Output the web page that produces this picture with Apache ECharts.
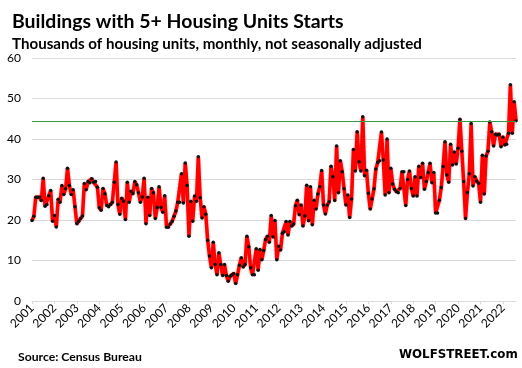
<!DOCTYPE html>
<html><head><meta charset="utf-8">
<script src="https://cdn.jsdelivr.net/npm/echarts@6/dist/echarts.min.js"></script>
<style>html,body{margin:0;padding:0;background:#fff}#c{width:522px;height:368px}</style>
</head><body><div id="c"></div>
<script>
// Monthly starts, thousands of units (NSA), buildings with 5+ units
const years = ['2001','2002','2003','2004','2005','2006','2007','2008','2009','2010','2011','2012','2013','2014','2015','2016','2017','2018','2019','2020','2021','2022'];
const y2001 = [19.9, 20.9, 25.6, 25.6, 25.6, 24.8, 30.3, 23.4, 23.8, 26.0, 27.3, 19.7];
const y2002 = [21.1, 18.3, 25.1, 24.4, 28.5, 26.3, 27.7, 32.8, 28.5, 26.3, 27.5, 23.3];
const y2003 = [19.1, 19.7, 20.4, 21.0, 29.0, 27.5, 29.5, 29.2, 30.2, 29.3, 29.5, 28.1];
const y2004 = [23.0, 22.4, 27.8, 26.5, 23.6, 23.3, 23.8, 24.4, 29.3, 34.3, 23.8, 21.4];
const y2005 = [25.4, 24.6, 20.1, 29.3, 24.4, 27.1, 26.5, 29.5, 28.7, 26.7, 24.4, 25.7];
const y2006 = [30.3, 19.1, 25.6, 21.1, 27.8, 26.7, 20.4, 23.1, 28.2, 23.1, 21.9, 26.0];
const y2007 = [18.2, 18.2, 19.0, 19.7, 20.9, 22.2, 24.4, 24.4, 31.4, 24.2, 34.1, 28.5];
const y2008 = [16.0, 24.6, 19.7, 25.9, 24.6, 35.6, 25.5, 20.5, 23.3, 21.4, 15.0, 11.1];
const y2009 = [8.2, 14.5, 9.0, 6.5, 11.9, 9.0, 6.3, 9.0, 6.3, 4.9, 6.1, 6.5];
const y2010 = [6.8, 4.3, 6.5, 8.8, 10.7, 8.4, 9.0, 16.0, 13.4, 8.2, 6.5, 6.5];
const y2011 = [12.9, 7.6, 12.7, 10.2, 12.5, 15.2, 16.0, 14.5, 21.1, 15.8, 19.9, 10.2];
const y2012 = [13.5, 12.6, 16.7, 17.1, 19.6, 16.3, 19.6, 18.5, 19.0, 23.5, 24.9, 21.3];
const y2013 = [23.7, 18.5, 21.0, 28.6, 19.8, 28.2, 18.8, 24.9, 22.7, 26.4, 28.2, 32.2];
const y2014 = [23.7, 21.5, 23.7, 24.5, 33.3, 30.7, 24.8, 38.3, 26.7, 34.6, 31.9, 27.7];
const y2015 = [23.7, 26.2, 20.6, 25.2, 37.4, 32.1, 41.8, 34.4, 32.1, 45.5, 30.9, 32.3];
const y2016 = [26.6, 22.7, 25.2, 27.7, 32.6, 34.2, 34.6, 41.7, 34.8, 26.2, 40.0, 26.7];
const y2017 = [32.8, 28.9, 27.6, 27.0, 26.7, 27.8, 31.9, 31.9, 23.6, 30.0, 32.1, 27.8];
const y2018 = [25.9, 30.7, 25.9, 33.3, 30.5, 34.0, 27.6, 29.5, 31.7, 34.0, 29.2, 31.7];
const y2019 = [21.7, 21.7, 24.9, 28.0, 33.2, 39.3, 31.1, 29.3, 38.7, 33.6, 36.8, 33.8];
const y2020 = [37.7, 44.9, 37.0, 29.5, 20.4, 26.8, 31.4, 43.8, 28.4, 30.7, 29.6, 29.1];
const y2021 = [24.4, 36.0, 26.4, 35.8, 37.0, 44.2, 41.8, 38.3, 41.2, 41.0, 41.2, 38.1];
const y2022 = [40.5, 38.5, 38.7, 41.4, 53.4, 41.4, 49.2, 44.5];
const yearlyArrays = [y2001,y2002,y2003,y2004,y2005,y2006,y2007,y2008,y2009,y2010,y2011,y2012,y2013,y2014,y2015,y2016,y2017,y2018,y2019,y2020,y2021,y2022];
const yMin = 0, yMax = 60, yStep = 10;
const titleText = 'Buildings with 5+ Housing Units Starts';
const subText = 'Thousands of housing units, monthly, not seasonally adjusted';
const sourceText = 'Source: Census Bureau';
const brandText = 'WOLFSTREET.com';

const categories = [];
const values = [];
yearlyArrays.forEach((arr, i) => {
  arr.forEach((v, m) => {
    categories.push(years[i] + '-' + String(m + 1).padStart(2, '0'));
    values.push(v);
  });
});
const latest = values[values.length - 1];

const cv = document.createElement('canvas').getContext('2d');
function fit(text, weight, family, target) {
  cv.font = weight + ' 100px ' + family;
  return 100 * target / cv.measureText(text).width;
}
const FONT = 'Lato';
const tSize = fit(titleText, 'bold', FONT, 332);
const sSize = fit(subText, 'bold', FONT, 410);
const srcSize = fit(sourceText, 'bold', FONT, 124);
const bSize = fit(brandText, 'bold', '"DejaVu Sans"', 119);

const chart = echarts.init(document.getElementById('c'), null, { renderer: 'canvas' });
const isYearStart = (idx) => idx % 12 === 0;
chart.setOption({
  animation: false,
  backgroundColor: '#fff',
  title: [
    { text: titleText, left: 7, top: 7, textStyle: { fontFamily: FONT, fontWeight: 'bold', fontSize: tSize, color: '#000' } },
    { text: subText, left: 7, top: 32, textStyle: { fontFamily: FONT, fontWeight: 'bold', fontSize: sSize, color: '#000' } },
    { text: sourceText, left: 13, top: 346, textStyle: { fontFamily: FONT, fontWeight: 'bold', fontSize: srcSize, color: '#000' } },
    { text: brandText, left: 394, top: 344, textStyle: { fontFamily: '"DejaVu Sans"', fontWeight: 'bold', fontSize: bSize, color: '#000' } }
  ],
  grid: { left: 32, right: 6, top: 58, bottom: 67, containLabel: false },
  xAxis: {
    type: 'category',
    data: categories,
    boundaryGap: false,
    axisLine: { lineStyle: { color: '#d9d9d9', width: 1 } },
    axisTick: { show: true, interval: isYearStart, length: 3, lineStyle: { color: '#d9d9d9' } },
    axisLabel: {
      interval: isYearStart, rotate: 45, margin: 5,
      formatter: (v) => v.slice(0, 4),
      fontFamily: FONT, fontSize: 12, color: '#000'
    },
    splitLine: { show: false }
  },
  yAxis: {
    type: 'value', min: yMin, max: yMax, interval: yStep,
    axisLine: { show: false }, axisTick: { show: false },
    axisLabel: { margin: 11, fontFamily: FONT, fontSize: 12, color: '#000' },
    splitLine: { lineStyle: { color: '#d9d9d9', width: 1 } }
  },
  series: [{
    type: 'line',
    data: values,
    showAllSymbol: true,
    symbol: 'circle',
    symbolSize: 3.5,
    itemStyle: { color: '#111' },
    lineStyle: { color: '#ff0000', width: 3.5, shadowColor: 'rgba(255,0,0,0.45)', shadowBlur: 2 },
    z: 3,
    markLine: {
      silent: true, symbol: 'none', label: { show: false },
      lineStyle: { color: '#339944', width: 1, type: 'solid' },
      data: [{ yAxis: latest }]
    }
  }]
});
</script>
</body></html>
